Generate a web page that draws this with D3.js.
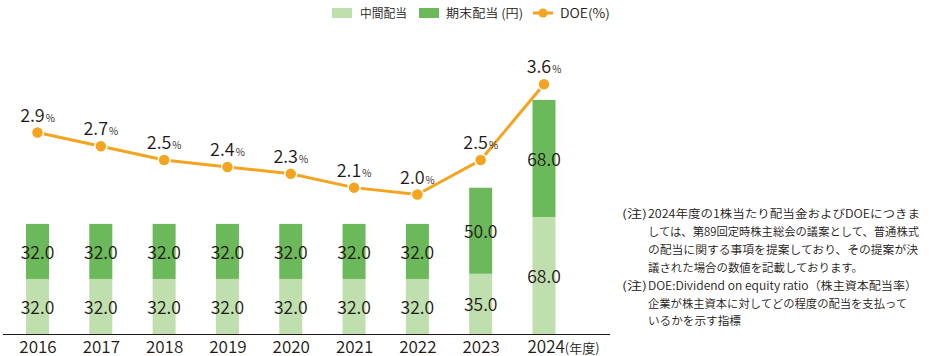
<!DOCTYPE html>
<html><head><meta charset="utf-8">
<script src="https://cdn.jsdelivr.net/npm/d3@7"></script>
<style>
html,body{margin:0;padding:0;background:#fff;}
svg{display:block;font-family:"Noto Sans CJK JP","Noto Sans",sans-serif;font-weight:350;}
</style></head>
<body><svg id="chart" width="929" height="356"></svg>
<script>
const years = ["2016","2017","2018","2019","2020","2021","2022","2023","2024"];
const interim = [32,32,32,32,32,32,32,35,68];
const yearEnd = [32,32,32,32,32,32,32,50,68];
const doe = [2.9,2.7,2.5,2.4,2.3,2.1,2.0,2.5,3.6];
const legendLabels = ["中間配当","期末配当 (円)","DOE(%)"];
const noteLines = [
  {head:"(注)", text:"2024年度の1株当たり配当金およびDOEにつきま", w:272},
  {head:"", text:"しては、第89回定時株主総会の議案として、普通株式", w:271},
  {head:"", text:"の配当に関する事項を提案しており、その提案が決", w:270},
  {head:"", text:"議された場合の数値を記載しております。", w:215},
  {head:"(注)", text:"DOE:Dividend on equity ratio（株主資本配当率）", w:269},
  {head:"", text:"企業が株主資本に対してどの程度の配当を支払って", w:259},
  {head:"", text:"いるかを示す指標", w:93}
];

const C = {light:"#bfdfae", dark:"#6bb95a", orange:"#f4a41f", text:"#231815"};
const svg = d3.select("#chart");

const x = d3.scalePoint().domain(years).range([37.5, 544]);
const yBar = d3.scaleLinear().domain([0, 136]).range([334, 100]);
const yDoe = d3.scaleLinear().domain([0, 3.6]).range([332.3, 84.3]);
const barW = 23;
const fmt = d3.format(".1f");

const data = years.map((y,i)=>({year:y, a:interim[i], b:yearEnd[i], d:doe[i]}));

// bars
const g = svg.append("g");
g.selectAll("rect.a").data(data).join("rect")
  .attr("x", d=>x(d.year)-barW/2).attr("width", barW)
  .attr("y", d=>yBar(d.a)).attr("height", d=>yBar(0)-yBar(d.a))
  .attr("fill", C.light);
g.selectAll("rect.b").data(data).join("rect")
  .attr("x", d=>x(d.year)-barW/2).attr("width", barW)
  .attr("y", d=>yBar(d.a+d.b)).attr("height", d=>yBar(d.a)-yBar(d.a+d.b))
  .attr("fill", C.dark);

// bar labels
g.selectAll("text.la").data(data).join("text")
  .attr("x", d=>x(d.year)).attr("y", d=>(yBar(0)+yBar(d.a))/2+7.5)
  .attr("text-anchor","middle").attr("font-size",17.5).attr("fill",C.text)
  .text(d=>fmt(d.a));
g.selectAll("text.lb").data(data).join("text")
  .attr("x", d=>x(d.year)).attr("y", d=>(yBar(d.a)+yBar(d.a+d.b))/2+7.5)
  .attr("text-anchor","middle").attr("font-size",17.5).attr("fill",C.text)
  .text(d=>fmt(d.b));

// axis
svg.append("line").attr("x1",3).attr("x2",610).attr("y1",334.5).attr("y2",334.5)
  .attr("stroke",C.text).attr("stroke-width",1.2);
const ax = svg.append("g").attr("transform","translate(0,334)")
  .call(d3.axisBottom(x).tickSize(0).tickPadding(0));
ax.select(".domain").remove();
ax.selectAll(".tick text").remove();
ax.selectAll(".tick").append("text")
  .attr("y", 18.5).attr("font-size",17).attr("fill",C.text)
  .attr("text-anchor","middle")
  .attr("font-family",'"Noto Sans CJK JP","Noto Sans",sans-serif')
  .attr("font-weight",350)
  .each(function(d){
    const t = d3.select(this);
    if (d === "2024") {
      t.attr("text-anchor","start").attr("x", -17);
      t.append("tspan").text(d);
      t.append("tspan").attr("font-size",13).text("(年度)");
    } else t.text(d);
  });

// DOE line
const line = d3.line().x(d=>x(d.year)).y(d=>yDoe(d.d));
svg.append("path").datum(data).attr("d", line)
  .attr("fill","none").attr("stroke",C.orange).attr("stroke-width",3);
svg.selectAll("circle.p").data(data).join("circle")
  .attr("cx", d=>x(d.year)).attr("cy", d=>yDoe(d.d)).attr("r",6)
  .attr("fill",C.orange).attr("stroke","#fff").attr("stroke-width",1.5);
const lab = svg.selectAll("text.dl").data(data).join("text")
  .attr("x", d=>x(d.year)).attr("y", d=>yDoe(d.d)-11)
  .attr("text-anchor","middle").attr("fill",C.text);
lab.append("tspan").attr("font-size",18).text(d=>d.d.toFixed(1));
lab.append("tspan").attr("font-size",10).attr("dx",1).text("%");

// legend
const lg = svg.append("g").attr("font-size",12.5).attr("fill",C.text);
lg.append("rect").attr("x",332).attr("y",8).attr("width",20).attr("height",10).attr("fill",C.light);
lg.append("text").attr("x",360).attr("y",18).attr("textLength",47).attr("lengthAdjust","spacingAndGlyphs").text(legendLabels[0]);
lg.append("rect").attr("x",419).attr("y",8).attr("width",20).attr("height",10).attr("fill",C.dark);
lg.append("text").attr("x",446).attr("y",18).attr("textLength",77).attr("lengthAdjust","spacingAndGlyphs").text(legendLabels[1]);
lg.append("line").attr("x1",533).attr("x2",553).attr("y1",13).attr("y2",13)
  .attr("stroke",C.orange).attr("stroke-width",3).attr("stroke-dasharray","6,2,4,2,6");
lg.append("circle").attr("cx",543).attr("cy",13).attr("r",4.5).attr("fill",C.orange);
lg.append("text").attr("x",560).attr("y",18).attr("textLength",50).attr("lengthAdjust","spacingAndGlyphs").text(legendLabels[2]);

// notes
const ng = svg.append("g").attr("font-size",11.5).attr("fill",C.text);
noteLines.forEach((n,i)=>{
  const yy = 218 + i*17.9;
  if (n.head) ng.append("text").attr("x",622).attr("y",yy).attr("textLength",25).attr("lengthAdjust","spacingAndGlyphs").text(n.head);
  ng.append("text").attr("x",648).attr("y",yy).attr("textLength",n.w).attr("lengthAdjust","spacingAndGlyphs").text(n.text);
});
</script></body></html>
